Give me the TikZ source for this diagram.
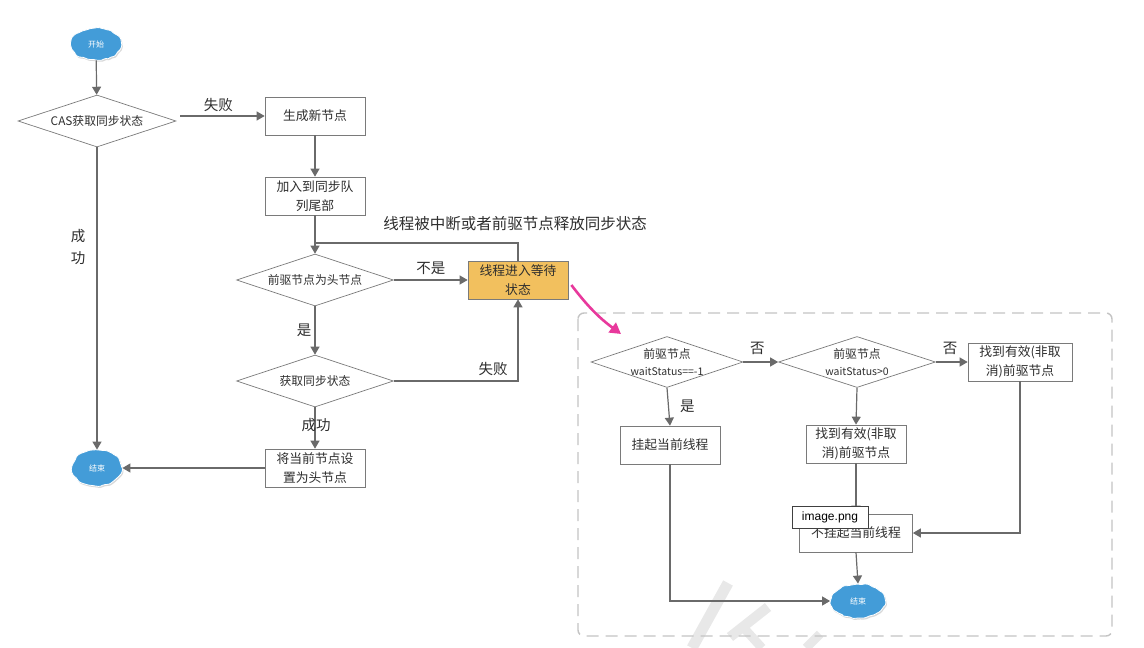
\documentclass[tikz,border=0pt]{standalone}
\usepackage{fontspec}
\setmainfont{Noto Sans CJK SC}
\newfontfamily\latfont{Liberation Sans}
\usetikzlibrary{arrows.meta,shapes.geometric,decorations.pathmorphing,shadows,calc}
\definecolor{linec}{HTML}{6A6A6A}
\definecolor{boxc}{HTML}{7A7A7A}
\definecolor{bblue}{HTML}{439CD8}
\definecolor{worange}{HTML}{F2C05E}
\definecolor{pinkc}{HTML}{E8399C}
\definecolor{txtc}{HTML}{2E2E2E}
\definecolor{framec}{HTML}{C4C4C4}
\definecolor{wmark}{HTML}{E8E8E8}
\newcommand{\smallline}[1]{{\fontsize{10.5}{16}\selectfont #1}}
\begin{document}
\begin{tikzpicture}[x=1pt,y=-1pt,
 box/.style={draw=boxc, line width=0.7pt, fill=white, minimum width=100pt, minimum height=38pt, align=center, text=txtc, font=\fontsize{12.8}{18.5}\selectfont, inner sep=1pt},
 dia/.style={draw=boxc, line width=0.7pt, shape=diamond, minimum width=157pt, minimum height=52pt, inner sep=0pt},
 dtext/.style={text=txtc, align=center, font=\fontsize{11.8}{17}\selectfont, inner sep=0pt},
 blob/.style={shape=ellipse, fill=bblue, draw=white, line width=0.8pt, text=white, font=\fontsize{8}{9}\selectfont, decorate, decoration={random steps, segment length=3pt, amplitude=0.9pt}, rounded corners=1.2pt, drop shadow={opacity=0.3, shadow xshift=1pt, shadow yshift=-1.5pt}},
 ln/.style={draw=linec, line width=1.2pt},
 arr/.style={ln, -{Triangle[length=8pt,width=9pt]}},
 lab/.style={text=txtc, font=\fontsize{14.5}{16}\selectfont, inner sep=1pt}
]
\pgfmathsetseed{7}
\useasboundingbox[fill=white] (0,0) rectangle (1144,648);
% watermark
\draw[wmark, line width=11pt] (728,583) -- (692,648);
\draw[wmark, line width=10pt] (768,607) -- (730,637);
\draw[wmark, line width=9pt] (742,626) -- (762,648);
\draw[wmark, line width=9pt] (820,634) -- (806,648);
% dashed frame
\draw[framec, line width=1.4pt, dash pattern=on 12pt off 7pt, rounded corners=6pt] (578,313) rectangle (1112,636);

% left flow
\node[blob, minimum width=51pt, minimum height=32pt] (start) at (96,44) {开始};
\node[dia, minimum width=158pt, label={[dtext]center:CAS获取同步状态}] (cas) at (97,121) {};
\node[box] (newn) at (315,116) {生成新节点};
\node[box] (queue) at (315,196) {加入到同步队\\列尾部};
\node[dia, label={[dtext]center:前驱节点为头节点}] (head) at (315,280) {};
\node[box, fill=worange] (wait) at (518,280) {线程进入等待\\状态};
\node[dia, label={[dtext]center:获取同步状态}] (acq) at (315,381) {};
\node[box] (sethead) at (315,468) {将当前节点设\\置为头节点};
\node[blob, minimum width=50pt, minimum height=36pt] (end1) at (97,468) {结束};

% right flow
\node[dia, minimum width=152pt, minimum height=51pt, label={[dtext]center:前驱节点\\\smallline{waitStatus==-1}}] (d1) at (667,362) {};
\node[dia, minimum height=51pt, label={[dtext]center:前驱节点\\\smallline{waitStatus>0}}] (d2) at (857,362) {};
\node[box, minimum width=104pt] (find1) at (1020,362) {找到有效(非取\\消)前驱节点};
\node[box] (hang) at (670,445) {挂起当前线程};
\node[box] (find2) at (856,444) {找到有效(非取\\消)前驱节点};
\node[box, minimum width=113pt] (nohang) at (856,533) {不挂起当前线程};
\node[blob, minimum width=55pt, minimum height=34pt] (end2) at (858,601) {结束};

% connectors left
\draw[arr] (start) -- (cas);
\draw[arr] ([xshift=4pt,yshift=5pt]cas.east) -- node[lab, above=3pt, pos=0.45] {失败} (newn.west);
\draw[arr] (newn) -- (queue);
\draw[arr] (queue) -- (head);
\coordinate (join) at (315,243);
\draw[ln] (wait.north) |- (join);
\node[lab, font=\fontsize{15.5}{17}\selectfont] (intlab) at (515,224) {线程被中断或者前驱节点释放同步状态};
\draw[arr] (head.east) -- node[lab, above=4pt, pos=0.5] {不是} (wait.west);
\draw[arr] (head.south) -- node[lab, left=2pt, pos=0.5] {是} (acq.north);
\draw[arr] (acq.east) -| node[lab, above=4pt, pos=0.4] {失败} (wait.south);
\draw[arr] (acq.south) -- (sethead.north);
\node[lab] (oklab) at (316,425) {成功};
\draw[arr] (sethead.west) -- (end1.east);
\draw[arr] (cas.south) -- node[lab, align=center, font=\fontsize{14.5}{22}\selectfont, left=10pt, pos=0.33] {成\\功} (end1.north);

% pink arrow
\coordinate (pinkend) at (621,334);
\draw[pinkc, line width=2.6pt, -{Triangle[length=11pt,width=12pt]}] ([xshift=3pt,yshift=-5pt]wait.east) to[bend right=8] (pinkend);

% connectors right
\draw[arr] (d1.east) -- node[lab, above=6pt, pos=0.4] {否} (d2.west);
\draw[arr] (d2.east) -- node[lab, above=6pt, pos=0.45] {否} (find1.west);
\draw[arr] (d1.south) -- node[lab, right=10pt, pos=0.5] {是} (hang.north);
\draw[arr] (d2.south) -- (find2.north);
\draw[arr] (find2.south) -- (nohang.north);
\draw[arr] (find1.south) |- (nohang.east);
\draw[arr] (nohang.south) -- (end2.north);
\draw[arr] (hang.south) |- (end2.west);

\node[draw=black!75, fill=white, font=\latfont\fontsize{12}{14}\selectfont, minimum width=76pt, minimum height=22pt, inner sep=2pt] (imgl) at (830,517) {image.png};
\end{tikzpicture}
\end{document}
